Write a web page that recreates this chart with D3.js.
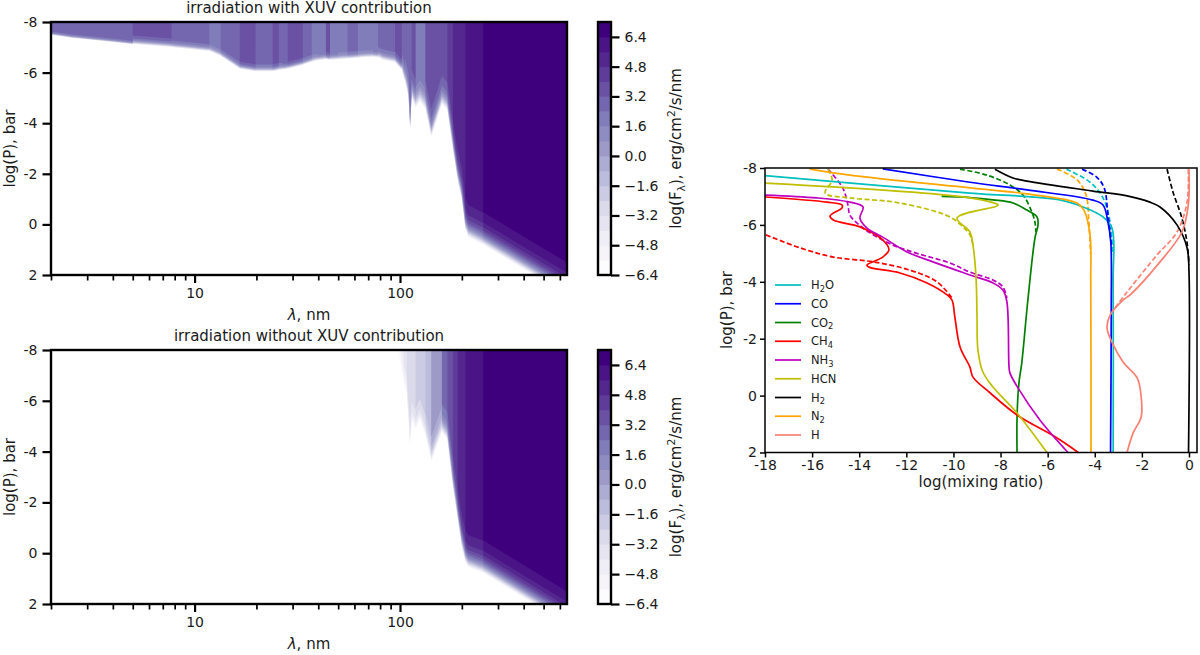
<!DOCTYPE html>
<html>
<head>
<meta charset="utf-8">
<script src="https://cdn.jsdelivr.net/npm/d3@7/dist/d3.min.js"></script>
<style>
	html, body {margin: 0; background: #fff;}
	svg {display: block;}
	text {font-family: "DejaVu Sans", sans-serif; fill: #1a1a1a;}
</style>
</head>
<body>
<svg id="chart" width="1200" height="655"></svg>
<script>
/////////////////////////////////////////////////////////////////
// irradiation maps: wavelength bins, flux at the top of the bin, depth where it is gone
const fluxLevels = [-6.4, -5.6, -4.8, -4.0, -3.2, -2.4, -1.6, -0.8, 0.0, 0.8, 1.6, 2.4, 3.2, 4.0, 4.8, 5.6, 6.4, 7.2];
const colorbarTicks = [-6.4, -4.8, -3.2, -1.6, 0.0, 1.6, 3.2, 4.8, 6.4];
const wlMajorTicks = [10, 100];
const wlMinorTicks = [2, 3, 4, 5, 6, 7, 8, 9, 20, 30, 40, 50, 60, 70, 80, 90, 200, 300, 400, 500, 600];
const pressureTicks = [-8, -6, -4, -2, 0, 2];
const mixingTicks = [-18, -16, -14, -12, -10, -8, -6, -4, -2, 0];

const xuvWl = [2, 2.54, 3.98, 5, 7.73, 11.8, 13.4, 16.6, 19.8, 24, 25.7, 26.9, 28.4, 33.6, 37.2, 39.8, 43.6, 45.6, 49.9, 55.5, 62.4, 66, 73.9, 78.1, 82.7, 94.6, 102, 106, 110, 112, 114, 119, 125, 133, 142, 160, 170, 181, 191, 200, 208, 215, 254, 650];
const xuvEdge = [-7.49, -7.37, -7.21, -7.12, -7.0, -6.85, -6.65, -6.15, -6.05, -6.05, -6.1, -6.12, -6.15, -6.3, -6.42, -6.48, -6.52, -6.5, -6.52, -6.55, -6.58, -6.6, -6.62, -6.6, -6.5, -6.4, -6.1, -5.6, -5.0, -3.7, -5.0, -4.6, -4.85, -4.55, -3.45, -4.75, -4.5, -2.95, -1.7, -0.95, 0.2, 0.5, 0.81, 2.8];
const xuvFlux = [2.8, 2.8, 2.8, 3.6, 2.8, 2.0, 2.8, 3.6, 2.8, 3.6, 2.8, 3.2, 3.6, 2.8, 2.0, 2.4, 3.6, 2.4, 2.0, 2.8, 2.0, 2.0, 2.4, 2.8, 2.8, 3.6, 2.8, 2.8, 2.8, 2.8, 3.6, 2.4, 2.4, 3.6, 3.6, 3.6, 4.4, 5.2, 5.2, 5.2, 6.0, 6.0, 6.8];
const xuvFade = [0.1, 0.1, 0.1, 0.25, 0.2, 0.2, 0.2, 0.2, 0.2, 0.2, 0.2, 0.2, 0.2, 0.2, 0.2, 0.2, 0.2, 0.2, 0.2, 0.2, 0.2, 0.2, 0.2, 0.3, 0.3, 0.3, 0.5, 0.7, 0.7, 0.7, 0.8, 0.8, 0.8, 0.8, 0.8, 0.8, 0.8, 0.8, 0.85, 0.85, 0.85, 0.85, 0.85];

const noXuvWl = [96.6, 100, 104, 108, 112, 114, 119, 125, 133, 142, 160, 170, 181, 191, 200, 208, 215, 254, 650];
const noXuvEdge = [-8.0, -7.5, -6.8, -6.2, -4.2, -5.2, -4.85, -5.24, -4.6, -3.6, -4.77, -4.46, -2.6, -1.3, -0.24, 0.35, 0.55, 0.78, 2.8];
const noXuvFlux = [-5.2, -4.4, -3.6, -2.8, -2.8, -2.8, -2.0, -2.0, -1.2, 0.4, 2.8, 3.6, 4.4, 5.2, 5.2, 6.0, 6.0, 6.8];
const noXuvFade = [0.8, 0.8, 0.8, 0.8, 0.8, 0.8, 0.8, 0.8, 0.8, 0.8, 0.8, 0.8, 0.85, 0.85, 0.85, 0.85, 0.85, 0.85];

//////////////////////////////////////////////////////////////////
// mixing ratio profiles as [log(mixing ratio), log(P)]
const h2oSolid = [[-18, -7.73], [-9.3, -7.12], [-5.48, -6.88], [-4.5, -6.63], [-3.65, -6.28], [-3.27, -5.89], [-3.22, -4.0], [-3.22, 2]];
const h2oDash = [[-5.2, -7.96], [-4.2, -7.5], [-3.65, -6.95], [-3.35, -6.1], [-3.24, -4.94]];
const coSolid = [[-13, -7.97], [-9.3, -7.5], [-6.88, -7.23], [-4.08, -6.87], [-3.65, -6.7], [-3.44, -6.1], [-3.32, -5.4], [-3.3, -3], [-3.33, 2]];
const coDash = [[-4.54, -7.96], [-3.92, -7.68], [-3.6, -7.3], [-3.44, -6.35], [-3.28, -5.2]];
const co2Solid = [[-10.5, -7.0], [-9.3, -6.96], [-8.32, -6.88], [-7.47, -6.77], [-6.88, -6.52], [-6.45, -6.28], [-6.41, -6], [-6.54, -5.54], [-6.84, -3.36], [-7.1, -1.14], [-7.22, -0.44], [-7.3, 0.75], [-7.3, 2]];
const co2Dash = [[-9.72, -7.96], [-8.58, -7.75], [-7.6, -7.4], [-7.05, -7.05], [-6.67, -6.45], [-6.54, -6.1], [-6.5, -5.75]];
const ch4Solid = [[-18, -6.98], [-15.37, -6.8], [-14.73, -6.7], [-14.73, -6.6], [-15.24, -6.31], [-15.1, -6.17], [-13.97, -5.93], [-13, -5.47], [-12.74, -5.12], [-13, -4.87], [-13.67, -4.59], [-13.6, -4.52], [-12.27, -4.31], [-11.12, -3.96], [-10.27, -3.54], [-10.06, -3.36], [-9.94, -2.76], [-9.72, -1.71], [-9.3, -1.0], [-9.17, -0.65], [-8.45, -0.1], [-7.3, 0.68], [-5.6, 1.49], [-4.7, 2]];
const ch4Dash = [[-17.96, -5.65], [-16.5, -5.19], [-15.1, -4.87], [-13.4, -4.7], [-11.85, -4.41], [-10.7, -4], [-10.06, -3.43]];
const nh3Solid = [[-18, -7.05], [-15.8, -6.95], [-14.4, -6.8], [-13.84, -6.63], [-13.97, -6.24], [-13.67, -5.89], [-13, -5.57], [-11.97, -5.05], [-10.87, -4.7], [-9.3, -4.24], [-8.32, -3.96], [-7.9, -3.71], [-7.73, -3.29], [-7.64, -1], [-7.6, -0.79], [-7.26, -0.27], [-6.33, 0.86], [-5.14, 2]];
const nh3Dash = [[-15.33, -7.96], [-14.7, -7.3], [-14.48, -6.7], [-14.4, -6.35], [-14.1, -6.07], [-13.54, -5.72], [-12.57, -5.29], [-11.55, -5.0], [-10.15, -4.66], [-9.3, -4.34], [-8.32, -4.06], [-7.9, -3.82], [-7.73, -3.43]];
const hcnSolid = [[-18, -7.47], [-9.3, -6.95], [-8.1, -6.7], [-8.2, -6.65], [-9.85, -6.24], [-9.3, -5.75], [-9.17, -5.29], [-9.04, -4.13], [-9.0, -2.83], [-8.96, -1.6], [-8.75, -0.83], [-8.32, -0.3], [-7.3, 0.61], [-6.03, 2]];
const hcnDash = [[-15.33, -7.96], [-15.15, -7.58], [-15.45, -7.12], [-14.4, -6.95], [-12.27, -6.77], [-10.15, -6.28], [-9.6, -5.93], [-9.3, -5.65], [-9.17, -5.29]];
const h2Solid = [[-8.24, -7.96], [-7.47, -7.65], [-6.88, -7.54], [-4.08, -7.19], [-2.63, -7.02], [-1.66, -6.8], [-1.23, -6.63], [-0.51, -6], [-0.08, -5.19], [0, -4.34], [-0.02, 2]];
const h2Dash = [[-0.93, -7.96], [-0.68, -7.16], [-0.3, -6.24], [-0.08, -5.36], [0, -4.6]];
const n2Solid = [[-16.1, -7.96], [-14.4, -7.75], [-9.3, -7.3], [-6.88, -7.09], [-4.75, -6.77], [-4.46, -6.52], [-4.2, -5.64], [-4.17, -4], [-4.16, 2]];
const n2Dash = [[-5.6, -7.96], [-4.75, -7.58], [-4.37, -7.05], [-4.25, -6.1], [-4.18, -5]];
const hSolid = [[0, -7.96], [-0.03, -6.7], [-0.3, -5.75], [-1.23, -4.7], [-2.5, -3.54], [-2.8, -3.36], [-3.35, -2.83], [-3.48, -2.38], [-3.27, -1.88], [-2.8, -1.18], [-2.2, -0.62], [-2.03, 0.05], [-2.03, 0.75], [-2.37, 1.31], [-2.63, 2]];
const hDash = [[-0.03, -7.96], [-0.08, -6.8], [-0.51, -5.75], [-1.36, -4.94], [-2.63, -3.64], [-3.27, -2.94]];

const speciesNames = ["H_2O", "CO", "CO_2", "CH_4", "NH_3", "HCN", "H_2", "N_2", "H"];
const speciesColors = ["#00bfbf", "#0000ff", "#008000", "#ff0000", "#bf00bf", "#bfbf00", "#000000", "#ffa500", "#fa8072"];
const speciesSolid = [h2oSolid, coSolid, co2Solid, ch4Solid, nh3Solid, hcnSolid, h2Solid, n2Solid, hSolid];
const speciesDash = [h2oDash, coDash, co2Dash, ch4Dash, nh3Dash, hcnDash, h2Dash, n2Dash, hDash];
//////////////////////////////////////////////////////////////////

const svg = d3.select("#chart");

// matplotlib "Purples", one flat colour per contour band
const purples = d3.scaleLinear()
	.domain(d3.range(9).map(i => i / 8))
	.range(d3.schemePurples[9]);
const bandColor = k => purples(k / (fluxLevels.length - 2));

const wlScale = d3.scaleLog().domain([2, 650]).range([51, 567]);

//writes text with _x and ^x as sub and superscripts
function richText(sel, label, size){
	const parts = label.split(/([_^].)/).filter(s => s.length > 0);
	let shift = 0;
	parts.forEach(function(part){
		const t = sel.append("tspan");
		if(part[0] == "_" || part[0] == "^"){
			const d = part[0] == "_" ? size * 0.25 : -size * 0.4;
			t.attr("dy", d - shift).attr("font-size", size * 0.72).text(part[1]);
			shift = d;
		}else{
			t.attr("dy", -shift).text(part);
			shift = 0;
		}
	});
}

function styleAxis(g, lineWidth, size){
	g.select(".domain").remove();
	g.selectAll("line").attr("stroke", "#000").attr("stroke-width", lineWidth);
	g.selectAll("text").attr("font-size", size).attr("fill", "#1a1a1a");
}

function drawFluxField(top, bottom, title, wl, edge, flux, fade, clipId){
	const y = d3.scaleLinear().domain([-8, 2]).range([top, bottom]);

	svg.append("clipPath").attr("id", clipId)
		.append("rect")
			.attr("x", 51).attr("y", top)
			.attr("width", 516).attr("height", bottom - top);

	//every bin gives two points so the flux can jump between bins
	const points = d3.range(flux.length).flatMap(i => [
		{w: wl[i], p: edge[i], f: flux[i], s: fade[i]},
		{w: wl[i + 1], p: edge[i + 1], f: flux[i], s: fade[i]}
	]);

	const field = svg.append("g").attr("clip-path", "url(#" + clipId + ")");
	fluxLevels.slice(0, -1).forEach(function(level, k){
		const area = d3.area()
			.defined(d => d.f > level)
			.x(d => wlScale(d.w))
			.y0(y(-8))
			.y1(d => y(d.p + d.s * Math.log10((d.f - level) / (d.f - fluxLevels[0]))));
		field.append("path")
			.attr("fill", bandColor(k))
			.attr("d", area(points));
	});

	//axes
	const xMajor = svg.append("g")
		.attr("transform", "translate(0," + bottom + ")")
		.call(d3.axisBottom(wlScale).tickValues(wlMajorTicks).tickFormat(d3.format("d")).tickSize(8).tickPadding(5));
	styleAxis(xMajor, 2.2, 14);
	const xMinor = svg.append("g")
		.attr("transform", "translate(0," + bottom + ")")
		.call(d3.axisBottom(wlScale).tickValues(wlMinorTicks).tickFormat("").tickSize(5.5));
	styleAxis(xMinor, 1.7, 14);
	const yAxis = svg.append("g")
		.attr("transform", "translate(51,0)")
		.call(d3.axisLeft(y).tickValues(pressureTicks).tickFormat(d => String(d)).tickSize(8.5).tickPadding(5));
	styleAxis(yAxis, 2.2, 14);

	svg.append("rect")
		.attr("x", 51).attr("y", top)
		.attr("width", 516).attr("height", bottom - top)
		.attr("fill", "none").attr("stroke", "#000").attr("stroke-width", 2.4);

	svg.append("text")
		.attr("x", 309).attr("y", top - 9)
		.attr("text-anchor", "middle").attr("font-size", 15)
		.text(title);

	const xLabel = svg.append("text")
		.attr("x", 309).attr("y", bottom + 45)
		.attr("text-anchor", "middle").attr("font-size", 15);
	xLabel.append("tspan").attr("font-style", "italic").text("\u03bb");
	xLabel.append("tspan").text(", nm");

	svg.append("text")
		.attr("transform", "translate(15," + ((top + bottom) / 2) + ") rotate(-90)")
		.attr("text-anchor", "middle").attr("font-size", 15)
		.text("log(P), bar");

	//colorbar
	const cScale = d3.scaleLinear()
		.domain([fluxLevels[0], fluxLevels[fluxLevels.length - 1]])
		.range([bottom, top]);
	const cx = 598;
	const cw = 13;
	svg.append("g").selectAll("rect")
		.data(fluxLevels.slice(0, -1))
		.enter()
		.append("rect")
			.attr("x", cx).attr("width", cw)
			.attr("y", (d, i) => cScale(fluxLevels[i + 1]))
			.attr("height", (d, i) => cScale(d) - cScale(fluxLevels[i + 1]) + 0.5)
			.attr("fill", (d, i) => bandColor(i));
	const cAxis = svg.append("g")
		.attr("transform", "translate(" + (cx + cw) + ",0)")
		.call(d3.axisRight(cScale).tickValues(colorbarTicks).tickFormat(d3.format(".1f")).tickSize(8.5).tickPadding(5));
	styleAxis(cAxis, 2.2, 14);
	svg.append("rect")
		.attr("x", cx).attr("y", top)
		.attr("width", cw).attr("height", bottom - top)
		.attr("fill", "none").attr("stroke", "#000").attr("stroke-width", 2.4);

	const cLabel = svg.append("text")
		.attr("transform", "translate(681," + ((top + bottom) / 2) + ") rotate(-90)")
		.attr("text-anchor", "middle").attr("font-size", 15);
	richText(cLabel, "log(F_\u03bb), erg/cm^2/s/nm", 15);
}

function drawProfiles(){
	const x = d3.scaleLinear().domain([-18, 0.34]).range([765, 1197]);
	const y = d3.scaleLinear().domain([-8, 2]).range([168, 452.5]);
	const line = d3.line()
		.x(d => x(d[0]))
		.y(d => y(d[1]))
		.curve(d3.curveCatmullRom.alpha(0.5));

	speciesDash.forEach(function(series, i){
		svg.append("path")
			.attr("fill", "none")
			.attr("stroke", speciesColors[i])
			.attr("stroke-width", 1.7)
			.attr("stroke-dasharray", "5,2.5")
			.attr("d", line(series));
	});
	speciesSolid.forEach(function(series, i){
		svg.append("path")
			.attr("fill", "none")
			.attr("stroke", speciesColors[i])
			.attr("stroke-width", 1.7)
			.attr("d", line(series));
	});

	//frame and axes
	const xAxis = svg.append("g")
		.attr("transform", "translate(0,452.5)")
		.call(d3.axisBottom(x).tickValues(mixingTicks).tickFormat(d => String(d)).tickSize(5).tickPadding(3));
	styleAxis(xAxis, 1.5, 14);
	const yAxis = svg.append("g")
		.attr("transform", "translate(765,0)")
		.call(d3.axisLeft(y).tickValues(pressureTicks).tickFormat(d => String(d)).tickSize(5).tickPadding(3));
	styleAxis(yAxis, 1.5, 14);
	svg.append("rect")
		.attr("x", 765).attr("y", 168)
		.attr("width", 432).attr("height", 284.5)
		.attr("fill", "none").attr("stroke", "#000").attr("stroke-width", 1.5);

	svg.append("text")
		.attr("x", 981).attr("y", 487)
		.attr("text-anchor", "middle").attr("font-size", 15)
		.text("log(mixing ratio)");
	svg.append("text")
		.attr("transform", "translate(732,310) rotate(-90)")
		.attr("text-anchor", "middle").attr("font-size", 15)
		.text("log(P), bar");

	//legend
	speciesNames.forEach(function(name, i){
		const ly = 285 + i * 18.75;
		svg.append("line")
			.attr("x1", 775).attr("x2", 801)
			.attr("y1", ly).attr("y2", ly)
			.attr("stroke", speciesColors[i]).attr("stroke-width", 1.7);
		const t = svg.append("text")
			.attr("x", 811).attr("y", ly + 4)
			.attr("font-size", 11.5);
		richText(t, name, 11.5);
	});
}

document.addEventListener("DOMContentLoaded", function(){
	drawFluxField(22, 275, "irradiation with XUV contribution", xuvWl, xuvEdge, xuvFlux, xuvFade, "clipTop");
	drawFluxField(350, 604, "irradiation without XUV contribution", noXuvWl, noXuvEdge, noXuvFlux, noXuvFade, "clipBottom");
	drawProfiles();
});
</script>
</body>
</html>
